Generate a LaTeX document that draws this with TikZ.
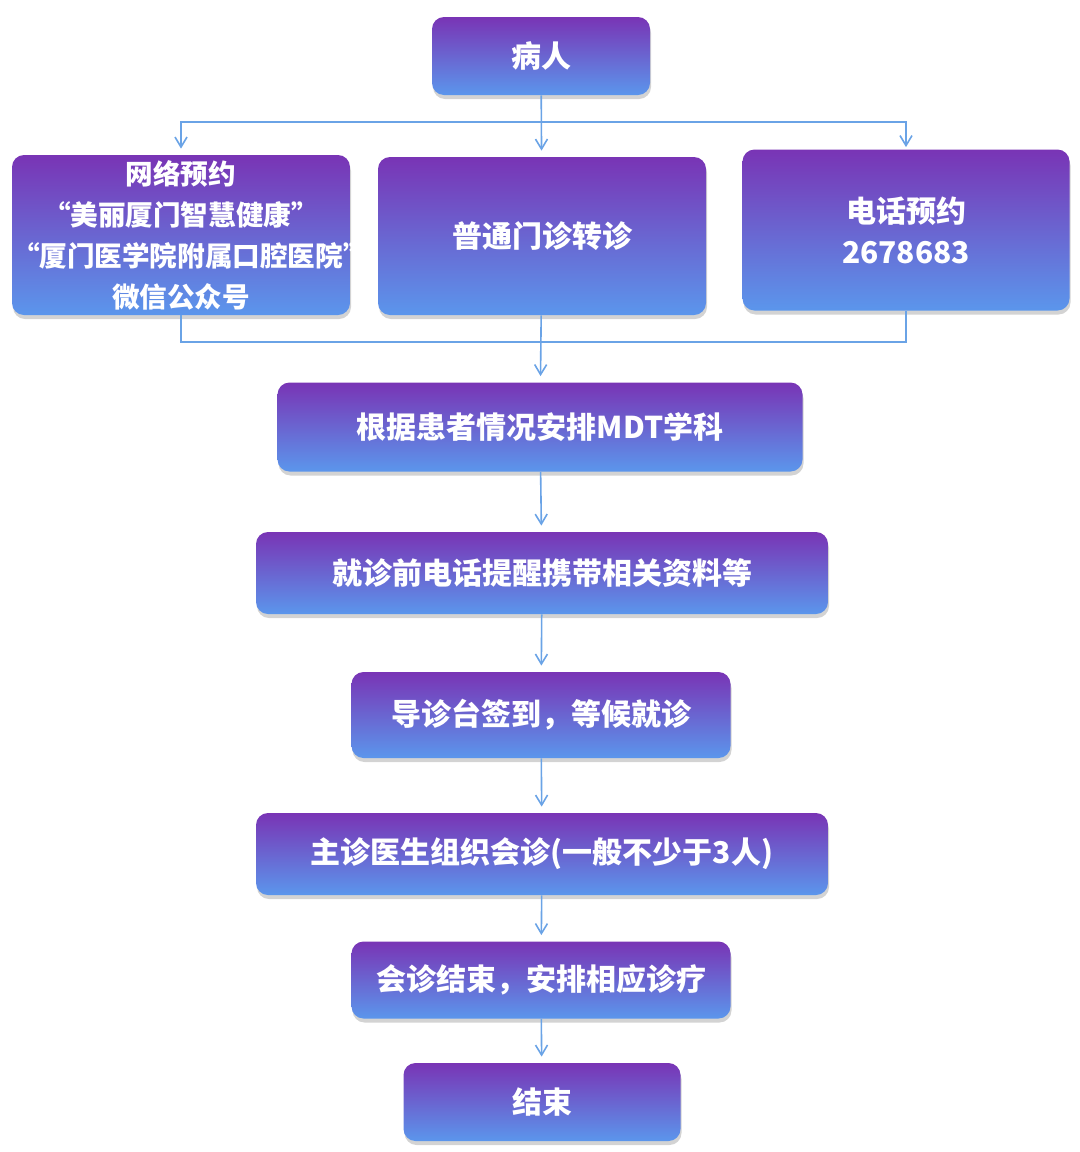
\documentclass[tikz,border=0pt]{standalone}
\usepackage{fontspec}
\setmainfont{Noto Sans CJK SC}
\usepackage{tikz}
\usetikzlibrary{calc}
\usetikzlibrary{arrows.meta,shapes,positioning,shadows}
\definecolor{boxtop}{RGB}{121,52,181}
\definecolor{boxbottom}{RGB}{91,150,236}
\definecolor{flowline}{RGB}{106,163,230}
\tikzset{>={Straight Barb[length=5pt,width=6pt]}}
\tikzset{
  stage/.style={rounded corners=6pt,top color=boxtop,bottom color=boxbottom,
    text=white,font=\bfseries\fontsize{15}{20.5}\selectfont,align=center,
    inner sep=0pt,drop shadow={shadow xshift=0.5pt,shadow yshift=-2pt,opacity=0.35}},
  flow/.style={draw=flowline,line width=0.8pt}
}
\begin{document}
\begin{tikzpicture}[x=0.5pt,y=-0.5pt]
          \useasboundingbox (0,0) rectangle (1080,1152);
          \node [stage,minimum width=109pt,minimum height=39pt] (patient) at (541,56) {病人};
          \node [stage,minimum width=169pt,minimum height=80pt,text width=169pt,
            font=\bfseries\fontsize{13.8}{20.5}\selectfont] (online) at (181,235)
            {网络预约\\“美丽厦门智慧健康”\\“厦门医学院附属口腔医院”\\微信公众号};
          \node [stage,minimum width=164pt,minimum height=79pt] (clinic) at (542,236) {普通门诊转诊};
          \node [stage,minimum width=163.5pt,minimum height=80.5pt] (phone) at (906,230) {电话预约\\2678683};
          \node [stage,minimum width=262.5pt,minimum height=44.5pt] (arrange) at (540,427) {根据患者情况安排MDT学科};
          \node [stage,minimum width=286pt,minimum height=41pt] (remind) at (542,573) {就诊前电话提醒携带相关资料等};
          \node [stage,minimum width=189.5pt,minimum height=43pt] (checkin) at (541,715) {导诊台签到，等候就诊};
          \node [stage,minimum width=286pt,minimum height=41pt] (consult) at (542,854) {主诊医生组织会诊(一般不少于3人)};
          \node [stage,minimum width=189.5pt,minimum height=38.5pt] (treat) at (541,980) {会诊结束，安排相应诊疗};
          \node [stage,minimum width=138.5pt,minimum height=39pt] (finish) at (542,1102) {结束};
          \coordinate (split) at (541,122);
          \coordinate (merge) at (542,342);
          % branch to the three ways of booking
          \draw [flow,->,shorten >=3pt] (patient) -- (clinic);
          \draw [flow,->,shorten >=3pt] (split) -| (online.north);
          \draw [flow,->,shorten >=1pt] (split) -| (phone.north);
          % join again
          \draw [flow] (online.south) |- (merge) -| (phone.south);
          \draw [flow,->,shorten >=3pt] (clinic) -- (arrange);
          \draw [flow,->,shorten >=3pt] (arrange) -- (remind);
          \draw [flow,->,shorten >=3pt] (remind) -- (checkin);
          \draw [flow,->,shorten >=3pt] (checkin) -- (consult);
          \draw [flow,->,shorten >=3pt] (consult) -- (treat);
          \draw [flow,->,shorten >=3pt] (treat) -- (finish);
        \end{tikzpicture}
\end{document}
